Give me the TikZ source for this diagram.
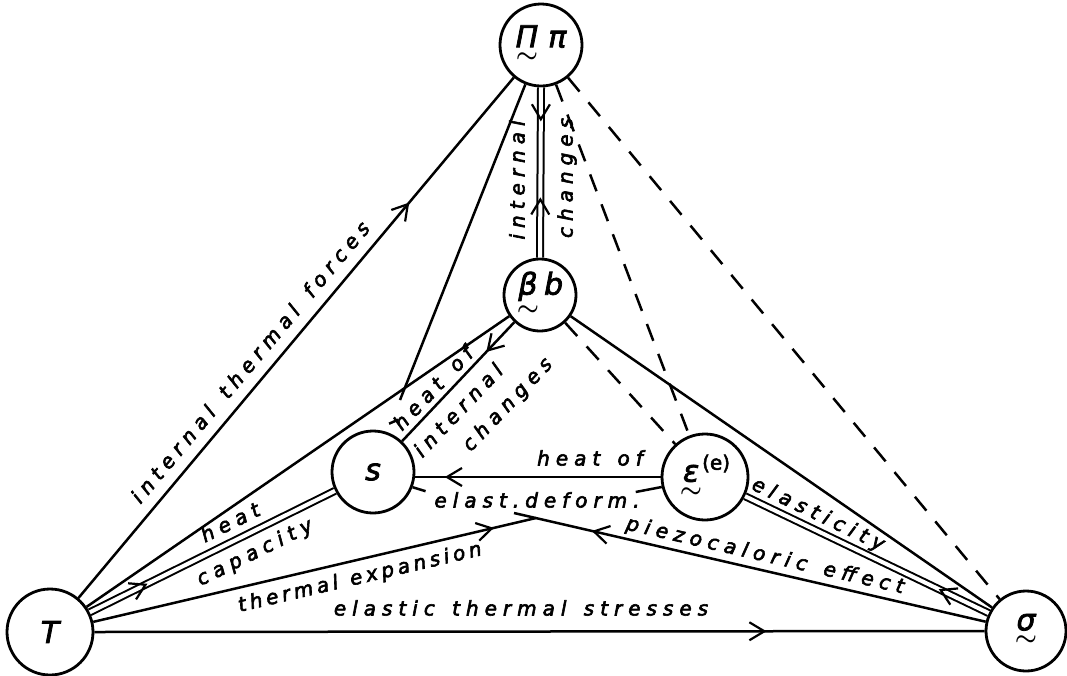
\documentclass[tikz,border=0pt]{standalone}
\usepackage{fontspec}
\usepackage{amsmath}
\setmainfont{DejaVu Sans}[FakeBold=2.5]
\newfontfamily\labfont{DejaVu Sans}[LetterSpace=30, WordSpace=1.4, FakeBold=3]
\newfontfamily\labfontn{DejaVu Sans}[LetterSpace=20, WordSpace=1.2, FakeBold=3]
\usetikzlibrary{arrows.meta,decorations.markings}
\tikzset{
  circ/.style={draw, circle, line width=2.8pt, minimum size=#1, inner sep=0pt},
  conn/.style={line width=2.5pt},
  dbl/.style={draw=black, double=white, double distance=4pt, line width=2pt},
  dsh/.style={line width=2.5pt, dash pattern=on 18pt off 14pt},
  lab/.style={font=\labfont\itshape\fontsize{20}{22}\selectfont, inner sep=0pt},
  labn/.style={font=\labfontn\itshape\fontsize{20}{22}\selectfont, inner sep=0pt},
  sym/.style={font=\itshape\fontsize{30}{32}\selectfont},
  barb/.tip={Straight Barb[length=15pt,width=18pt,line width=2.2pt]},
  fwd/.style={postaction={decorate}, decoration={markings, mark=at position #1 with {\arrow{barb}}}},
  bwd/.style={postaction={decorate}, decoration={markings, mark=at position #1 with {\arrowreversed{barb}}}},
}
\newcommand{\tl}[1]{$\underset{\textstyle\boldsymbol{\sim}}{\textit{#1}}$}
\begin{document}
\begin{tikzpicture}[x=1pt,y=-1pt]
\useasboundingbox (0,0) rectangle (1067,675);
% nodes
\node[circ=82pt, sym] (Pi)   at (541,45)  {\tl{Π}\,\,\textit{π}};
\node[circ=72pt, sym] (beta) at (540,295) {\tl{β}\,\textit{b}};
\node[circ=82pt, sym] (s)    at (373,472) {\textit{s}};
\node[circ=86pt, sym] (eps)  at (705,477) {\tl{ε}\raisebox{12pt}{\upshape\fontsize{20}{22}\selectfont(e)}};
\node[circ=86pt, sym] (T)    at (50,632)  {\textit{T}};
\node[circ=80pt, sym] (sig)  at (1026,631) {\tl{σ}};
\coordinate (apexL) at (514,513);
\coordinate (apexR) at (536,518);
\coordinate (psend) at (400,400);
% connectors
\draw[conn, fwd=0.76] (T) -- (Pi);
\draw[dbl] (Pi.south) -- (beta.north);
\path[fwd=0.2] (Pi.south) -- (beta.north);
\path[bwd=0.646] (Pi.south) -- (beta.north);
\draw[conn] (Pi) -- (psend);
\draw[conn, fwd=0.25] (beta) -- (s);
\draw[conn] (beta) -- (T);
\draw[conn] (beta) -- (sig);
\draw[dsh] (Pi) -- (sig);
\draw[dsh] (Pi) -- (eps);
\draw[dsh] (beta) -- (eps);
\draw[conn, fwd=0.88] (eps.west) -- (s.east |- eps.west);
\draw[dbl] (T) -- (s);
\path[fwd=0.235] (T) -- (s);
\draw[conn, fwd=0.905] (T) -- (apexR);
\draw[conn, fwd=0.835] (sig) -- (apexL);
\draw[dbl] (sig) -- (eps);
\path[fwd=0.205] (sig) -- (eps);
\draw[conn, fwd=0.755] (T.east) -- (sig.west);
% small stubs
\draw[conn] (s.-21) -- ++(13,4);
\draw[conn] (eps.193) -- ++(-26,5);
\draw[conn] ([shift={(3,-8)}]s.72) -- ++(9,-4);
% labels
\node[lab, rotate=50.1] (l1) at (250,362) {internal thermal forces};
\node[lab, rotate=90] (l2) at (517,180) {internal};
\node[lab, rotate=90] (l3) at (567,178) {changes};
\node[lab, rotate=46.5] (l4) at (433,388) {heat of};
\node[lab, rotate=46.5] (l5) at (458,410) {internal};
\node[lab, rotate=46.5] (l6) at (508,405) {changes};
\node[lab, rotate=26.35] (l7) at (230,522) {heat};
\node[lab, rotate=26.35] (l8) at (255,553) {capacity};
\node[labn, rotate=13.2] (l9) at (360,578) {thermal expansion};
\node[lab] (l10) at (521,608) {elastic thermal stresses};
\node[lab] (l11) at (590,458) {heat of};
\node[lab] (l12) at (537,500) {elast.deform.};
\node[lab, rotate=-13] (l13) at (765,556) {piezocaloric effect};
\node[lab, rotate=-25.6] (l14) at (818,515) {elasticity};
\end{tikzpicture}
\end{document}
